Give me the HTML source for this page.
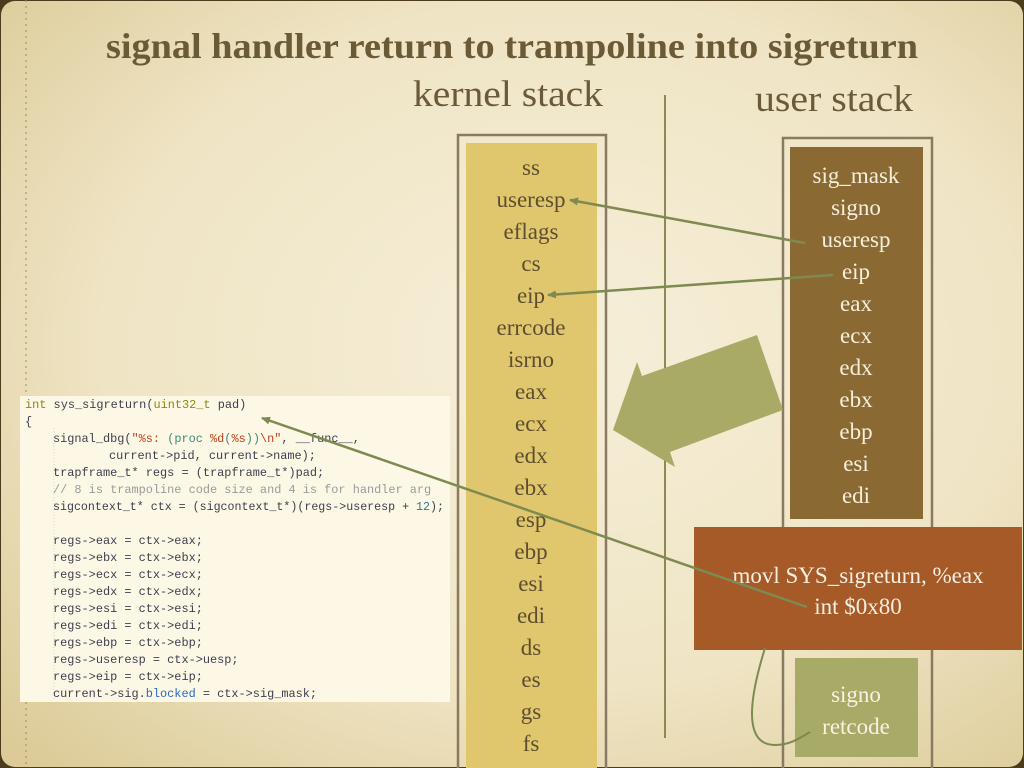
<!DOCTYPE html>
<html><head><meta charset="utf-8"><style>
html,body{margin:0;padding:0;background:#3a3018;}
svg{display:block}
</style></head><body>
<svg width="1024" height="768" viewBox="0 0 1024 768" xmlns="http://www.w3.org/2000/svg">
<defs>
<radialGradient id="bg" cx="0.55" cy="0.45" r="0.75">
<stop offset="0" stop-color="#f6efd9"/>
<stop offset="0.6" stop-color="#efe4c4"/>
<stop offset="1" stop-color="#dccb98"/>
</radialGradient>
<marker id="ah" markerWidth="10" markerHeight="10" refX="8" refY="5" orient="auto" markerUnits="userSpaceOnUse">
<path d="M0,1 L9,5 L0,9 Z" fill="#7d8a50"/>
</marker>
</defs>
<rect x="0" y="0" width="1024" height="768" fill="#4a3c1c"/>
<rect x="1" y="1" width="1022" height="766" rx="14" fill="url(#bg)"/>
<line x1="26" y1="0" x2="26" y2="768" stroke="#9a8a68" stroke-width="1" stroke-dasharray="2,4"/>
<g font-family="Liberation Serif, serif">
<text x="512" y="58" text-anchor="middle" font-weight="bold" font-size="36" fill="#6b5a36" textLength="812" lengthAdjust="spacingAndGlyphs">signal handler return to trampoline into sigreturn</text>
<text x="508" y="106" text-anchor="middle" font-size="37" fill="#6b5a3a" textLength="190" lengthAdjust="spacingAndGlyphs">kernel stack</text>
<text x="834" y="111" text-anchor="middle" font-size="37" fill="#6b5a3a" textLength="158" lengthAdjust="spacingAndGlyphs">user stack</text>
</g>
<line x1="665" y1="95" x2="665" y2="738" stroke="#8a8a52" stroke-width="2"/>
<rect x="458" y="135" width="148" height="640" fill="none" stroke="#8a7a62" stroke-width="2.5"/>
<rect x="466" y="143" width="131" height="630" fill="#e0c66c"/>
<rect x="783" y="138" width="149" height="640" fill="none" stroke="#8a7a62" stroke-width="2.5"/>
<rect x="790" y="147" width="133" height="372" fill="#8a6a32"/>
<g font-family="Liberation Serif, serif" font-size="23" fill="#5e4e30" text-anchor="middle">
<text x="531" y="175">ss</text><text x="531" y="207">useresp</text><text x="531" y="239">eflags</text><text x="531" y="271">cs</text><text x="531" y="303">eip</text><text x="531" y="335">errcode</text><text x="531" y="367">isrno</text><text x="531" y="399">eax</text><text x="531" y="431">ecx</text><text x="531" y="463">edx</text><text x="531" y="495">ebx</text><text x="531" y="527">esp</text><text x="531" y="559">ebp</text><text x="531" y="591">esi</text><text x="531" y="623">edi</text><text x="531" y="655">ds</text><text x="531" y="687">es</text><text x="531" y="719">gs</text><text x="531" y="751">fs</text>
</g>
<g font-family="Liberation Serif, serif" font-size="23" fill="#f6eedc" text-anchor="middle">
<text x="856" y="183">sig_mask</text><text x="856" y="215">signo</text><text x="856" y="247">useresp</text><text x="856" y="279">eip</text><text x="856" y="311">eax</text><text x="856" y="343">ecx</text><text x="856" y="375">edx</text><text x="856" y="407">ebx</text><text x="856" y="439">ebp</text><text x="856" y="471">esi</text><text x="856" y="503">edi</text>
</g>
<polygon points="642,376 757,335 783,410 670,452 675,467 613,430 637,362" fill="#a8aa65"/>
<rect x="694" y="527" width="328" height="123" fill="#a55a28"/>
<g font-family="Liberation Serif, serif" font-size="23" fill="#f8efe0" text-anchor="middle">
<text x="858" y="583">movl SYS_sigreturn, %eax</text>
<text x="858" y="614">int $0x80</text>
</g>
<rect x="795" y="658" width="123" height="99" fill="#a8aa68"/>
<g font-family="Liberation Serif, serif" font-size="23" fill="#f8f2e2" text-anchor="middle">
<text x="856" y="702">signo</text><text x="856" y="734">retcode</text>
</g>
<path d="M765,648 C752,690 740,745 775,745 C790,745 800,738 810,732" fill="none" stroke="#7d8a50" stroke-width="2"/>
<line x1="805" y1="243" x2="570" y2="200" stroke="#7d8a50" stroke-width="2.5" marker-end="url(#ah)"/>
<line x1="833" y1="275" x2="548" y2="295" stroke="#7d8a50" stroke-width="2.5" marker-end="url(#ah)"/>
<rect x="20" y="396" width="430" height="306" fill="#fdf8e6"/>
<line x1="54" y1="428" x2="54" y2="700" stroke="#ddd5bd" stroke-width="1" stroke-dasharray="1,2"/>
<g font-family="Liberation Mono, monospace" font-size="11.9" fill="#3e3e4e" xml:space="preserve">
<text x="25" y="408"><tspan fill="#8a8a10">int</tspan> sys_sigreturn(<tspan fill="#8a8a10">uint32_t</tspan> pad)</text>
<text x="25" y="425">{</text>
<text x="53" y="442">signal_dbg(<tspan fill="#c0401a">"%s: </tspan><tspan fill="#3a8a7a">(proc </tspan><tspan fill="#c0401a">%d</tspan><tspan fill="#3a8a7a">(</tspan><tspan fill="#c0401a">%s</tspan><tspan fill="#3a8a7a">))</tspan><tspan fill="#c0401a">\n"</tspan>, __func__,</text>
<text x="109" y="459">current-&gt;pid, current-&gt;name);</text>
<text x="53" y="476">trapframe_t* regs = (trapframe_t*)pad;</text>
<text x="53" y="493" fill="#9a9a9a">// 8 is trampoline code size and 4 is for handler arg</text>
<text x="53" y="510" textLength="391" lengthAdjust="spacingAndGlyphs">sigcontext_t* ctx = (sigcontext_t*)(regs-&gt;useresp + <tspan fill="#2a7a8a">12</tspan>);</text>
<text x="53" y="544">regs-&gt;eax = ctx-&gt;eax;</text>
<text x="53" y="561">regs-&gt;ebx = ctx-&gt;ebx;</text>
<text x="53" y="578">regs-&gt;ecx = ctx-&gt;ecx;</text>
<text x="53" y="595">regs-&gt;edx = ctx-&gt;edx;</text>
<text x="53" y="612">regs-&gt;esi = ctx-&gt;esi;</text>
<text x="53" y="629">regs-&gt;edi = ctx-&gt;edi;</text>
<text x="53" y="646">regs-&gt;ebp = ctx-&gt;ebp;</text>
<text x="53" y="663">regs-&gt;useresp = ctx-&gt;uesp;</text>
<text x="53" y="680">regs-&gt;eip = ctx-&gt;eip;</text>
<text x="53" y="697">current-&gt;sig.<tspan fill="#2a6ac0">blocked</tspan> = ctx-&gt;sig_mask;</text>
</g>
<line x1="807" y1="607" x2="262" y2="418" stroke="#7d8a50" stroke-width="2.5" marker-end="url(#ah)"/>
</svg>
</body></html>
